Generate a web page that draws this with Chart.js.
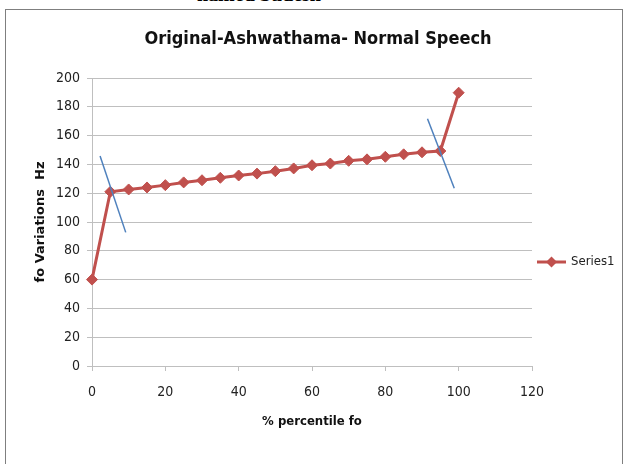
<!DOCTYPE html>
<html>
<head>
<meta charset="utf-8">
<script src="https://cdn.jsdelivr.net/npm/chart.js@4"></script>
<style>
  html, body { margin: 0; padding: 0; background: #fff; }
  #wrap { position: relative; width: 626px; height: 464px; overflow: hidden; }
  #cut { position: absolute; left: 197px; top: -17px; font: bold 20px 'Liberation Serif', serif; color: #000; }
  canvas { position: absolute; left: 0; top: 0; }
</style>
</head>
<body>
<div id="wrap">
  <div id="cut">named Sudesh</div>
  <canvas id="foChart" width="626" height="464"></canvas>
</div>
<script>
const percentile = [0, 5, 10, 15, 20, 25, 30, 35, 40, 45, 50, 55, 60, 65, 70, 75, 80, 85, 90, 95, 100];
const foValues = [60, 121, 122.6, 124, 125.6, 127.5, 129, 130.7, 132.3, 133.6, 135.3, 137.2, 139.4, 140.6, 142.5, 143.5, 145.3, 147, 148.4, 149.3, 189.8];
const leftTangentX = [2.2, 9.2];
const leftTangentY = [145.8, 92.8];
const rightTangentX = [91.5, 98.8];
const rightTangentY = [171.7, 123.4];
const xTicks = [0, 20, 40, 60, 80, 100, 120];
const yTicks = [0, 20, 40, 60, 80, 100, 120, 140, 160, 180, 200];

const red = '#C0504D';
const blue = '#4F81BD';
const grid = '#BFBFBF';
const narrow = "'DejaVu Sans Condensed', 'Liberation Sans Narrow', Arial, sans-serif";

function toPoints(xs, ys) {
    return xs.map((x, i) => ({ x: x, y: ys[i] }));
}

// frame around the whole chart
const framePlugin = {
    id: 'frame',
    beforeDraw(chart) {
        const ctx = chart.ctx;
        ctx.save();
        ctx.strokeStyle = '#7F7F7F';
        ctx.lineWidth = 1;
        ctx.strokeRect(5.5, 9.5, 617, 470);
        ctx.restore();
    }
};

// Excel style legend: line with a diamond, then the name
const legendPlugin = {
    id: 'sideLegend',
    afterDraw(chart) {
        const ctx = chart.ctx;
        const y = 262;
        ctx.save();
        ctx.strokeStyle = red;
        ctx.lineWidth = 3;
        ctx.beginPath();
        ctx.moveTo(537, y);
        ctx.lineTo(566, y);
        ctx.stroke();
        ctx.fillStyle = red;
        ctx.beginPath();
        ctx.moveTo(551.5, y - 5.5);
        ctx.lineTo(557, y);
        ctx.lineTo(551.5, y + 5.5);
        ctx.lineTo(546, y);
        ctx.closePath();
        ctx.fill();
        ctx.fillStyle = '#222';
        ctx.font = '13px ' + narrow;
        ctx.textBaseline = 'middle';
        ctx.fillText(chart.data.datasets[0].label, 571, y);
        ctx.restore();
    }
};

const ctx = document.getElementById('foChart').getContext('2d');
new Chart(ctx, {
    type: 'scatter',
    data: {
        datasets: [{
            label: 'Series1',
            data: toPoints(percentile, foValues),
            showLine: true,
            clip: false,
            borderColor: red,
            backgroundColor: red,
            borderWidth: 3,
            pointStyle: 'rectRot',
            pointRadius: 5.5,
            pointBorderWidth: 1,
            pointBorderColor: red,
            order: 2
        }, {
            label: 'tangent1',
            data: toPoints(leftTangentX, leftTangentY),
            showLine: true,
            borderColor: blue,
            borderWidth: 1.5,
            pointRadius: 0,
            order: 1
        }, {
            label: 'tangent2',
            data: toPoints(rightTangentX, rightTangentY),
            showLine: true,
            borderColor: blue,
            borderWidth: 1.5,
            pointRadius: 0,
            order: 1
        }]
    },
    options: {
        responsive: false,
        animation: false,
        layout: { padding: { left: 10, top: 0, right: 0, bottom: 0 } },
        plugins: {
            legend: { display: false },
            tooltip: { enabled: false },
            title: {
                display: true,
                text: 'Original-Ashwathama- Normal Speech',
                color: '#111',
                font: { family: narrow, size: 18, weight: 'bold', lineHeight: 1.2 },
                padding: { top: 29, bottom: 27.4 }
            }
        },
        scales: {
            x: {
                type: 'linear',
                min: 0,
                max: 120,
                afterBuildTicks: s => { s.ticks = xTicks.map(v => ({ value: v })); },
                afterFit: s => { s.height = 98; },
                grid: { drawOnChartArea: false, drawTicks: true, tickLength: 5, color: grid },
                border: { color: grid },
                ticks: { color: '#222', padding: 13, font: { family: narrow, size: 14 } },
                title: {
                    display: true,
                    text: '% percentile fo',
                    color: '#111',
                    font: { family: narrow, size: 13, weight: 'bold', lineHeight: 1.2 },
                    padding: { top: 0, bottom: 35 }
                }
            },
            y: {
                min: 0,
                max: 200,
                afterBuildTicks: s => { s.ticks = yTicks.map(v => ({ value: v })); },
                afterFit: s => { s.width = 82; },
                grid: { color: grid, tickLength: 5 },
                border: { color: grid },
                ticks: { color: '#222', padding: 7, font: { family: narrow, size: 14 } },
                title: {
                    display: true,
                    text: 'fo Variations  Hz',
                    color: '#111',
                    font: { family: "'DejaVu Sans', sans-serif", size: 13, weight: 'bold', lineHeight: 1.2 },
                    padding: { top: 23, bottom: 0 }
                }
            },
            side: {
                position: 'right',
                display: true,
                afterFit: s => { s.width = 94; },
                grid: { display: false },
                border: { display: false },
                ticks: { display: false }
            }
        }
    },
    plugins: [framePlugin, legendPlugin]
});
</script>
</body>
</html>
